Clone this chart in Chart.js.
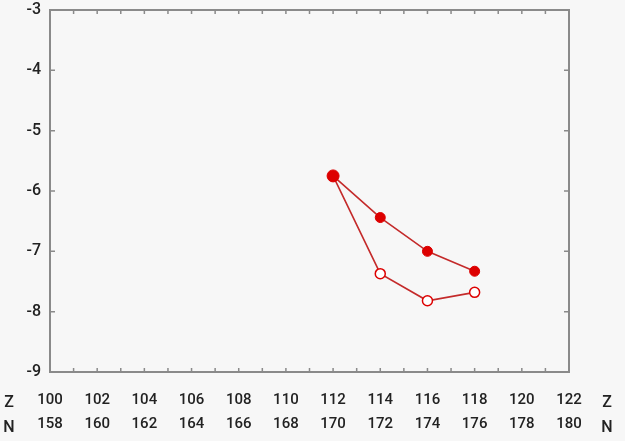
<!DOCTYPE html>
<html>
<head>
<meta charset="utf-8">
<script src="https://cdn.jsdelivr.net/npm/chart.js@4"></script>
<style>
  html, body { margin: 0; padding: 0; background: #f7f7f7; }
  #wrap { width: 625px; height: 441px; }
</style>
</head>
<body>
<div id="wrap"><canvas id="chart" width="625" height="441"></canvas></div>
<script>
// proton number Z, neutron number N shown under it
var zTicks = [100, 102, 104, 106, 108, 110, 112, 114, 116, 118, 120, 122];
var nTicks = [158, 160, 162, 164, 166, 168, 170, 172, 174, 176, 178, 180];
var yTicks = [-3, -4, -5, -6, -7, -8, -9];

var zPoints = [112, 114, 116, 118];
var filledValues = [-5.75, -6.44, -7.0, -7.33];
var openValues = [-5.75, -7.37, -7.82, -7.68];

var axisColor = '#8a8a8a';
var textColor = '#222222';
var red = '#dd0000';

function toXY(xs, ys) {
    var out = [];
    for (var i = 0; i < xs.length; i++) out.push({x: xs[i], y: ys[i]});
    return out;
}

// frame + inward ticks + Z/N side labels
var framePlugin = {
    id: 'frame',
    beforeDraw: function (chart) {
        var ctx = chart.ctx;
        ctx.save();
        ctx.fillStyle = '#f7f7f7';
        ctx.fillRect(0, 0, chart.width, chart.height);
        ctx.restore();
    },
    beforeDatasetsDraw: function (chart) {
        var ctx = chart.ctx, a = chart.chartArea;
        var xs = chart.scales.x, ys = chart.scales.y;
        ctx.save();
        ctx.strokeStyle = axisColor;
        ctx.lineWidth = 2;
        ctx.strokeRect(a.left, a.top, a.right - a.left, a.bottom - a.top);
        ctx.lineWidth = 1.5;
        ctx.beginPath();
        for (var v = 101; v < 122; v++) {
            var px = xs.getPixelForValue(v);
            ctx.moveTo(px, a.bottom); ctx.lineTo(px, a.bottom - 4);
            ctx.moveTo(px, a.top); ctx.lineTo(px, a.top + 4);
        }
        yTicks.forEach(function (t) {
            var py = ys.getPixelForValue(t);
            ctx.moveTo(a.left, py); ctx.lineTo(a.left + 5, py);
            ctx.moveTo(a.right, py); ctx.lineTo(a.right - 5, py);
        });
        ctx.stroke();
        ctx.fillStyle = textColor;
        ctx.font = '500 16px Roboto';
        ctx.textBaseline = 'middle';
        ctx.textAlign = 'center';
        ctx.fillText('Z', 9, 403);
        ctx.fillText('N', 9, 428);
        ctx.fillText('Z', 607, 403);
        ctx.fillText('N', 607, 428);
        ctx.restore();
    }
};

var config = {
    type: 'scatter',
    data: {
        datasets: [{
            label: 'filled',
            data: toXY(zPoints, filledValues),
            showLine: true,
            borderColor: '#c42a2a',
            borderWidth: 1.6,
            pointBackgroundColor: red,
            pointBorderColor: red,
            pointRadius: [6, 5, 5, 5],
            pointBorderWidth: 1,
            order: 1
        }, {
            label: 'open',
            data: toXY(zPoints, openValues),
            showLine: true,
            borderColor: '#c42a2a',
            borderWidth: 1.6,
            pointBackgroundColor: '#ffffff',
            pointBorderColor: red,
            pointRadius: [0, 5, 5, 5],
            pointBorderWidth: 1.5,
            order: 2
        }]
    },
    options: {
        responsive: false,
        animation: false,
        layout: { padding: { top: 10, right: 56, left: 0, bottom: 0 } },
        plugins: { legend: { display: false }, tooltip: { enabled: false } },
        scales: {
            x: {
                type: 'linear',
                min: 100,
                max: 122,
                grid: { display: false, drawTicks: false },
                border: { display: false },
                afterFit: function (s) { s.height = 69; s.paddingLeft = 0; s.paddingRight = 0; },
                ticks: {
                    stepSize: 2,
                    autoSkip: false,
                    maxRotation: 0,
                    padding: 16,
                    color: textColor,
                    font: { family: 'Roboto', size: 15, weight: '500', lineHeight: 1.6 },
                    callback: function (v) {
                        var i = zTicks.indexOf(v);
                        if (i < 0) return '';
                        return [String(zTicks[i]), String(nTicks[i])];
                    }
                }
            },
            y: {
                min: -9,
                max: -3,
                grid: { display: false, drawTicks: false },
                border: { display: false },
                afterFit: function (s) { s.width = 50; s.paddingTop = 0; s.paddingBottom = 0; },
                ticks: {
                    stepSize: 1,
                    padding: 9,
                    color: textColor,
                    font: { family: 'Roboto', size: 16, weight: '500' },
                    callback: function (v) { return String(v); }
                }
            }
        }
    },
    plugins: [framePlugin]
};

var myChart = new Chart(document.getElementById('chart'), config);
</script>
</body>
</html>
